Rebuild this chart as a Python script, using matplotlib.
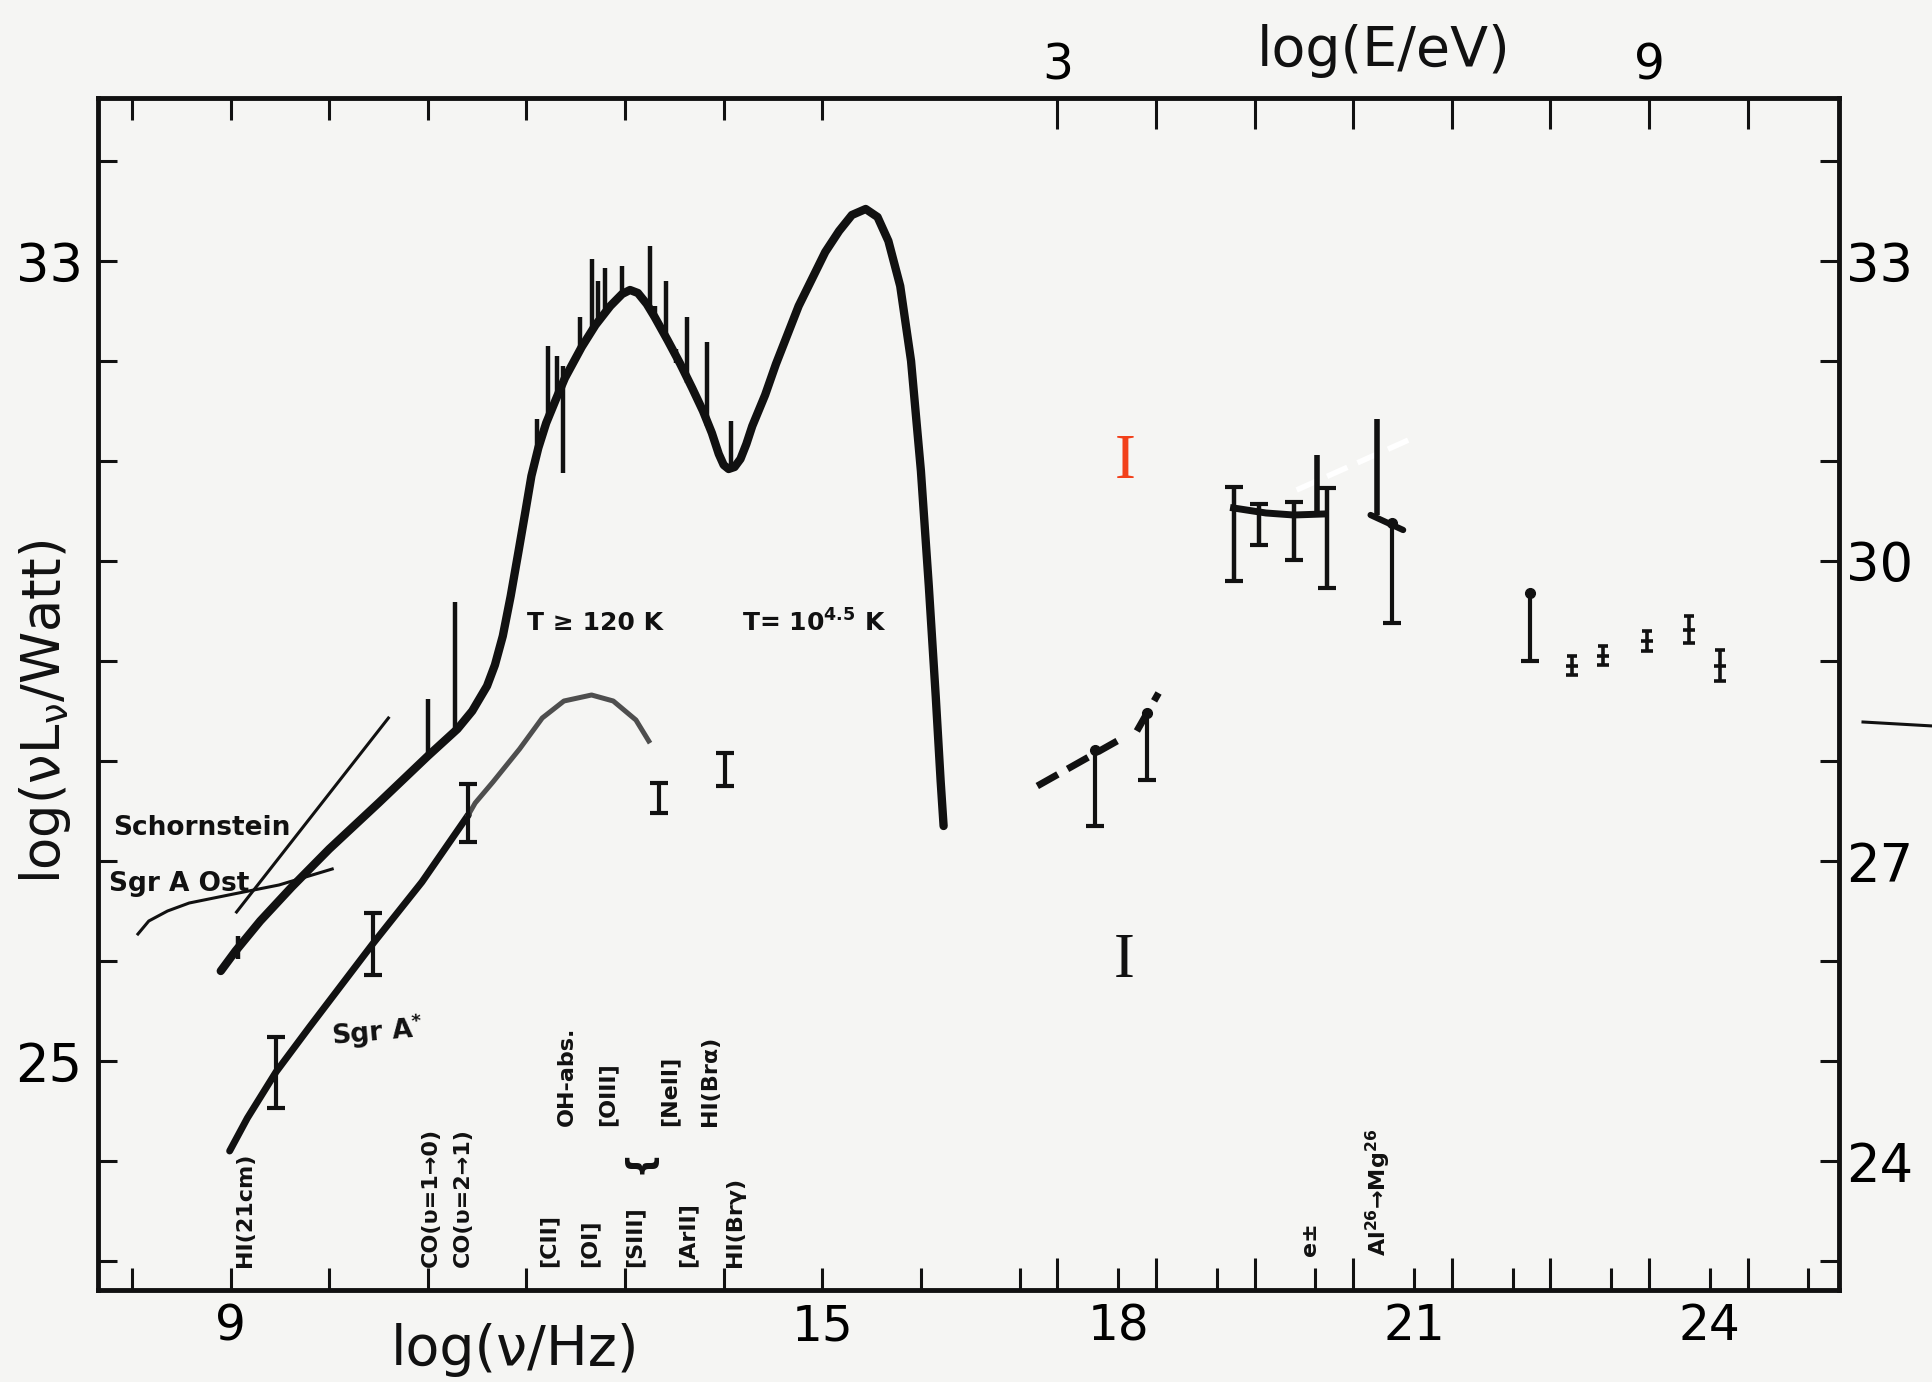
import matplotlib
matplotlib.use('Agg')
import matplotlib.pyplot as plt
from matplotlib import font_manager
from matplotlib.lines import Line2D

# ---- data: log(nu/Hz) vs log(nu L_nu / Watt) ----
# thermal dust + UV bump (main SED curve)
SED_NU = [8.90, 9.05, 9.30, 9.62, 10.00, 10.50, 11.00, 11.30, 11.45, 11.60, 11.68, 11.76,
          11.84, 11.92, 11.99, 12.05, 12.12, 12.20, 12.30, 12.39, 12.56, 12.70, 12.85,
          12.97, 13.05, 13.13, 13.22, 13.30, 13.43, 13.56, 13.68, 13.79, 13.88, 13.95,
          14.00, 14.05, 14.11, 14.17, 14.23, 14.29, 14.42, 14.53, 14.76, 15.03, 15.17,
          15.30, 15.44, 15.56, 15.67, 15.79, 15.90, 16.00, 16.08, 16.15, 16.20, 16.23]
SED_L = [25.90, 26.10, 26.40, 26.74, 27.12, 27.58, 28.05, 28.32, 28.50, 28.75, 28.96, 29.25,
         29.65, 30.10, 30.50, 30.85, 31.13, 31.38, 31.62, 31.83, 32.14, 32.36, 32.55,
         32.67, 32.71, 32.68, 32.57, 32.44, 32.21, 31.97, 31.73, 31.50, 31.28, 31.07,
         30.96, 30.92, 30.94, 31.02, 31.17, 31.35, 31.66, 31.97, 32.55, 33.09, 33.30,
         33.46, 33.52, 33.44, 33.20, 32.75, 32.00, 30.90, 29.75, 28.65, 27.80, 27.35]

# line emission spikes on the SED
SPIKE_NU = [9.07, 11.00, 11.28, 12.11, 12.22, 12.31, 12.37, 12.54, 12.66, 12.73, 12.80,
            12.97, 13.25, 13.30, 13.42, 13.52, 13.63, 13.83, 14.07]
SPIKE_LO = [26.02, 28.05, 28.30, 31.10, 31.40, 31.65, 30.88, 32.12, 32.30, 32.40, 32.48,
            32.67, 32.52, 32.42, 32.20, 31.98, 31.78, 31.35, 30.92]
SPIKE_HI = [26.25, 28.62, 29.59, 31.42, 32.15, 32.05, 31.95, 32.44, 33.02, 32.80, 32.93,
            32.95, 33.15, 32.55, 32.80, 32.12, 32.44, 32.19, 31.40]

# radio components
SCHORN_NU = [9.06, 10.60]
SCHORN_L = [26.49, 28.43]
OST_NU = [8.06, 8.17, 8.36, 8.58, 9.03, 9.49, 10.03]
OST_L = [26.27, 26.40, 26.50, 26.58, 26.67, 26.76, 26.92]

# Sgr A*
SGRA_NU = [8.99, 9.17, 9.46, 9.80, 10.44, 10.94, 11.41]
SGRA_L = [24.10, 24.43, 24.89, 25.34, 26.17, 26.79, 27.46]
SGRA_IR_NU = [11.41, 11.48, 11.66, 11.93, 12.16, 12.38, 12.66, 12.88, 13.11, 13.24]
SGRA_IR_L = [27.46, 27.58, 27.79, 28.12, 28.43, 28.60, 28.66, 28.60, 28.41, 28.20]
SGRA_ERR_NU = [9.46, 10.44, 11.41, 13.34, 14.01]
SGRA_ERR_LO = [24.53, 25.86, 27.19, 27.48, 27.75]
SGRA_ERR_HI = [25.24, 26.48, 27.77, 27.78, 28.08]

# X-rays
XRAY_NU = [17.77, 18.29]
XRAY_TOP = [28.11, 28.48]
XRAY_LOW = [27.35, 27.81]
XSLOPE1_NU = [17.18, 17.99]
XSLOPE1_L = [27.75, 28.20]
XSLOPE2_NU = [18.19, 18.41]
XSLOPE2_L = [28.30, 28.68]

# gamma-ray lines
GAMMA_NU = [19.17, 19.43, 19.78, 20.12]
GAMMA_LO = [29.80, 30.16, 30.01, 29.73]
GAMMA_HI = [30.74, 30.57, 30.59, 30.73]
GAMMA_FIT_NU = [19.17, 19.50, 19.78, 20.08]
GAMMA_FIT_L = [30.53, 30.48, 30.46, 30.47]
GLIM_NU = [20.02, 20.63]
GLIM_LO = [30.48, 30.46]
GLIM_HI = [31.06, 31.42]
COSB_NU = 20.78
COSB_TOP = 30.38
COSB_LOW = 29.38
COSB_SLOPE_NU = [20.56, 20.89]
COSB_SLOPE_L = [30.46, 30.31]
ERASED_NU = [19.81, 20.99]
ERASED_L = [30.71, 31.23]

# high-energy gamma rays
HE_NU = 22.18
HE_TOP = 29.68
HE_LOW = 29.00
VHE_NU = [22.60, 22.92, 23.36, 23.79, 24.10]
VHE_LO = [28.86, 28.96, 29.10, 29.18, 28.80]
VHE_HI = [29.05, 29.15, 29.30, 29.45, 29.11]

# tick positions
NU_TICKS = list(range(8, 26))
NU_LABELS = {9: '9', 15: '15', 18: '18', 21: '21', 24: '24'}
E_TICKS = list(range(3, 11))
E_LABELS = {3: '3', 9: '9'}
LOG_H_EV = 14.383          # log(nu/Hz) - log(E/eV)
L_TICKS = list(range(23, 35))
LEFT_LABELS = {33: '33', 25: '25'}
RIGHT_LABELS = {33: '33', 30: '30', 27: '27', 24: '24'}

# vertical line identifications along the bottom
ID_TEXT = ['HI(21cm)', 'CO(υ=1→0)', 'CO(υ=2→1)', '[CII]', '[OI]', '[SIII]', '[ArII]',
           'HI(Brγ)', 'OH-abs.', '[OIII]', '[NeII]', 'HI(Brα)', 'e±',
           'Al$^{26}$→Mg$^{26}$']
ID_NU = [9.15, 11.03, 11.36, 12.22, 12.64, 13.10, 13.63, 14.11, 12.41, 12.82, 13.45,
         13.86, 19.95, 20.64]
ID_BASE = [22.94, 22.94, 22.94, 22.94, 22.94, 22.94, 22.94, 22.94, 24.35, 24.35, 24.35,
           24.35, 23.05, 23.05]

INK = '#111111'
PAPER = '#f5f5f3'
RED = '#f2401a'

plt.rcParams['mathtext.default'] = 'regular'
plt.rcParams['font.family'] = 'DejaVu Sans'

names = {f.name for f in font_manager.fontManager.ttflist}
if 'Liberation Sans Narrow' in names:
    NARROW, ID_SIZE, DIGIT_SIZE = 'Liberation Sans Narrow', 21, 42
else:
    NARROW, ID_SIZE, DIGIT_SIZE = 'DejaVu Sans', 16, 35

W, H = 1933, 1382
fig = plt.figure(figsize=(W / 100, H / 100), dpi=100, facecolor=PAPER)
ax = fig.add_axes([98 / W, 1 - 1290 / H, (1839 - 98) / W, (1290 - 98) / H])
ax.set_facecolor('none')
XLIM = (7.655, 25.31)
YLIM = (22.71, 34.63)
ax.set_xlim(*XLIM)
ax.set_ylim(*YLIM)
for s in ax.spines.values():
    s.set_linewidth(3.5)
    s.set_color(INK)

# bottom axis: nu ticks plus longer energy ticks
ax.set_xticks(NU_TICKS)
ax.set_xticklabels([NU_LABELS.get(v, '') for v in NU_TICKS], fontfamily=NARROW,
                   fontsize=DIGIT_SIZE)
ax.set_xticks([e + LOG_H_EV for e in E_TICKS], minor=True)
ax.tick_params(axis='x', which='major', direction='in', length=16, width=2.2, pad=9,
               color=INK)
ax.tick_params(axis='x', which='minor', direction='in', length=23, width=2.2, color=INK)

# left axis
ax.set_yticks(L_TICKS)
ax.set_yticklabels([LEFT_LABELS.get(v, '') for v in L_TICKS], fontsize=38)
ax.tick_params(axis='y', direction='in', length=14, width=2.2, pad=11, color=INK)

# right axis
axr = ax.twinx()
axr.set_ylim(*YLIM)
axr.set_yticks(L_TICKS)
axr.set_yticklabels([RIGHT_LABELS.get(v, '') for v in L_TICKS], fontsize=38)
axr.tick_params(axis='y', direction='in', length=14, width=2.2, pad=5, color=INK)
for s in axr.spines.values():
    s.set_visible(False)

# top axis: energy scale
axt = ax.twiny()
axt.set_xlim(*XLIM)
axt.set_xticks([e + LOG_H_EV for e in E_TICKS])
axt.set_xticklabels([E_LABELS.get(e, '') for e in E_TICKS], fontfamily=NARROW,
                    fontsize=DIGIT_SIZE)
axt.set_xticks([v for v in NU_TICKS if v <= 15], minor=True)
axt.tick_params(axis='x', which='major', direction='in', length=22, width=2.2, pad=6,
                color=INK)
axt.tick_params(axis='x', which='minor', direction='in', length=16, width=2.2, color=INK)
for s in axt.spines.values():
    s.set_visible(False)

# main SED
ax.plot(SED_NU, SED_L, color=INK, lw=6, solid_joinstyle='round', solid_capstyle='round')
ax.vlines(SPIKE_NU, SPIKE_LO, SPIKE_HI, color=INK, lw=3.2)

# radio
ax.plot(SCHORN_NU, SCHORN_L, color=INK, lw=2.2)
ax.plot(OST_NU, OST_L, color=INK, lw=2.2, solid_joinstyle='round')
ax.plot(SGRA_NU, SGRA_L, color=INK, lw=5, solid_joinstyle='round', solid_capstyle='round')
ax.plot(SGRA_IR_NU, SGRA_IR_L, color='#3c3c3c', lw=3.6, alpha=0.9,
        solid_joinstyle='round')
ax.vlines(SGRA_ERR_NU, SGRA_ERR_LO, SGRA_ERR_HI, color=INK, lw=3)
ax.plot(SGRA_ERR_NU, SGRA_ERR_LO, '_', color=INK, ms=13, mew=3)
ax.plot(SGRA_ERR_NU, SGRA_ERR_HI, '_', color=INK, ms=13, mew=3)

# X-rays
ax.plot(XSLOPE1_NU, XSLOPE1_L, color=INK, lw=5, ls=(0, (3.4, 1.6)))
ax.plot(XSLOPE2_NU, XSLOPE2_L, color=INK, lw=5, ls=(0, (3.4, 1.6)))
ax.vlines(XRAY_NU, XRAY_LOW, XRAY_TOP, color=INK, lw=3)
ax.plot(XRAY_NU, XRAY_TOP, 'o', color=INK, ms=7)
ax.plot(XRAY_NU, XRAY_LOW, '_', color=INK, ms=13, mew=3)

# gamma-ray lines
ax.plot(ERASED_NU, ERASED_L, color='white', lw=4, ls=(0, (4, 2)))
ax.plot(GAMMA_FIT_NU, GAMMA_FIT_L, color=INK, lw=5, solid_joinstyle='round')
ax.vlines(GAMMA_NU, GAMMA_LO, GAMMA_HI, color=INK, lw=3.2)
ax.plot(GAMMA_NU, GAMMA_LO, '_', color=INK, ms=13, mew=3)
ax.plot(GAMMA_NU, GAMMA_HI, '_', color=INK, ms=13, mew=3)
ax.vlines(GLIM_NU, GLIM_LO, GLIM_HI, color=INK, lw=4)
ax.plot(COSB_SLOPE_NU, COSB_SLOPE_L, color=INK, lw=4.5, solid_capstyle='round')
ax.vlines(COSB_NU, COSB_LOW, COSB_TOP, color=INK, lw=3)
ax.plot([COSB_NU], [COSB_TOP], 'o', color=INK, ms=7)
ax.plot([COSB_NU], [COSB_LOW], '_', color=INK, ms=13, mew=3)

# high-energy gamma rays
ax.vlines(HE_NU, HE_LOW, HE_TOP, color=INK, lw=3)
ax.plot([HE_NU], [HE_TOP], 'o', color=INK, ms=7)
ax.plot([HE_NU], [HE_LOW], '_', color=INK, ms=13, mew=3)
vhe_mid = [(lo + hi) / 2 for lo, hi in zip(VHE_LO, VHE_HI)]
ax.vlines(VHE_NU, VHE_LO, VHE_HI, color=INK, lw=2.6)
ax.plot(VHE_NU, VHE_LO, '_', color=INK, ms=9, mew=2.6)
ax.plot(VHE_NU, VHE_HI, '_', color=INK, ms=7, mew=2.6)
ax.plot(VHE_NU, vhe_mid, '_', color=INK, ms=9, mew=2.6)

# annotations
ax.text(18.07, 30.98, 'I', color=RED, fontsize=45, family='Liberation Serif',
        ha='center', va='center')
ax.text(18.06, 25.99, 'I', color=INK, fontsize=45, family='Liberation Serif',
        ha='center', va='center')
ax.text(7.81, 27.33, 'Schornstein', ha='left', va='center', fontsize=19,
        fontweight='bold', color=INK)
ax.text(7.77, 26.77, 'Sgr A Ost', ha='left', va='center', fontsize=19,
        fontweight='bold', color=INK)
ax.text(10.01, 25.29, 'Sgr A$^{*}$', ha='left', va='center', fontsize=19,
        fontweight='bold', color=INK, rotation=5)
ax.text(12.70, 29.38, 'T ≥ 120 K', ha='center', va='center', fontsize=18,
        fontweight='bold', color=INK)
ax.text(14.92, 29.38, r'T= 10$^{\mathbf{4.5}}$ K', ha='center', va='center', fontsize=18,
        fontweight='bold', color=INK)
ax.text(13.14, 24.0, '{', ha='center', va='center', fontsize=26, rotation=90,
        family=NARROW, fontweight='bold', color=INK)
for txt, nu, base in zip(ID_TEXT, ID_NU, ID_BASE):
    ax.text(nu, base, txt, rotation=90, ha='center', va='bottom', fontsize=ID_SIZE,
            family=NARROW, fontweight='bold', color=INK)

# axis titles
fig.text(515 / W, 1 - 1350 / H, 'log(ν/Hz)', ha='center', va='center', fontsize=40,
         color=INK)
fig.text(1384 / W, 1 - 51 / H, 'log(E/eV)', ha='center', va='center', fontsize=40,
         color=INK)
fig.text(45 / W, 1 - 712 / H, 'log(νL$_ν$/Watt)', ha='center', va='center',
         rotation=90, fontsize=38, color=INK)

# stray pen stroke outside the right frame
fig.add_artist(Line2D([1863 / W, 1.0], [1 - 722 / H, 1 - 726 / H], color=INK, lw=2.2))

fig.savefig('out.png', dpi=100, facecolor=PAPER)
